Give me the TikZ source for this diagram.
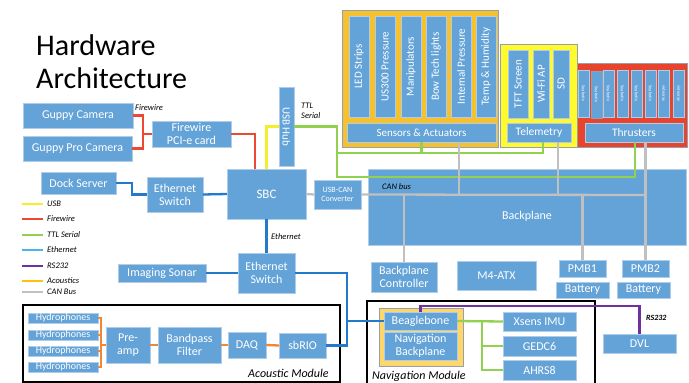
\documentclass[tikz,border=0pt]{standalone}
\usepackage{fontspec}
\setmainfont{Carlito}
\usetikzlibrary{calc}

\definecolor{boxblue}{RGB}{100,163,216}
\definecolor{boxedge}{RGB}{175,205,232}
\definecolor{sensgold}{RGB}{247,192,45}
\definecolor{telyellow}{RGB}{255,250,45}
\definecolor{thrred}{RGB}{232,67,45}
\definecolor{navgold}{RGB}{255,215,105}
\definecolor{framegray}{RGB}{150,160,172}
\definecolor{cUSB}{RGB}{245,238,45}
\definecolor{cFW}{RGB}{236,72,50}
\definecolor{cTTL}{RGB}{146,208,80}
\definecolor{cETH}{RGB}{35,122,205}
\definecolor{cETHkey}{RGB}{75,180,232}
\definecolor{cRS}{RGB}{112,48,160}
\definecolor{cAC}{RGB}{240,135,50}
\definecolor{cACkey}{RGB}{255,192,20}
\definecolor{cCAN}{RGB}{192,192,192}

% box given by its corners (x1,y1) (x2,y2) in picture units
\newcommand\mkbox[7][]{%
  \pgfmathsetmacro\mkw{#5-#3}%
  \pgfmathsetmacro\mkh{#6-#4}%
  \node[bx,minimum width=\mkw pt,minimum height=\mkh pt,#1] (#2)
    at ({(#3+#5)/2},{(#4+#6)/2}) {#7};}
% same, with the text turned to run vertically (bottom to top by default)
\newcommand\mkvbox[7][]{%
  \pgfmathsetmacro\mkw{#5-#3}%
  \pgfmathsetmacro\mkh{#6-#4}%
  \node[bx,minimum width=\mkh pt,minimum height=\mkw pt,rotate=90,#1] (#2)
    at ({(#3+#5)/2},{(#4+#6)/2}) {#7};}

\tikzset{
  bx/.style={draw=boxedge, line width=0.7pt, fill=boxblue, text=white,
    inner sep=0pt, outer sep=0pt, align=center,
    font=\fontsize{12}{13}\selectfont},
  downward/.style={rotate=180},
  f11/.style={font=\fontsize{11}{12}\selectfont},
  f8/.style={font=\fontsize{8}{9}\selectfont},
  wire/.style={line width=2.3pt},
  wusb/.style={wire, draw=cUSB},
  wfw/.style={wire, draw=cFW},
  wttl/.style={wire, draw=cTTL},
  weth/.style={wire, draw=cETH},
  wrs/.style={wire, draw=cRS},
  wac/.style={wire, draw=cAC},
  wcan/.style={wire, draw=cCAN},
  tag/.style={font=\fontsize{8.5}{10}\selectfont\itshape, inner sep=0pt},
  modframe/.style={draw=black, line width=2.2pt},
  tiny/.style={downward, font=\fontsize{4.5}{5}\selectfont},
}

\begin{document}
\begin{tikzpicture}[x=1pt,y=-1pt]
\fill[white] (0,0) rectangle (689,383);
\useasboundingbox (0,0) rectangle (689,383);

% title
\node[anchor=base west, inner sep=0pt, font=\fontsize{30}{32}\selectfont] (title1) at (36,55) {Hardware};
\node[anchor=base west, inner sep=0pt, font=\fontsize{30}{32}\selectfont] (title2) at (36,88) {Architecture};

% cameras and firewire card
\mkbox{guppy}{23}{103}{133}{128}{Guppy Camera}
\mkbox{guppypro}{23}{136}{132}{161}{Guppy Pro Camera}
\mkbox{fwcard}{152}{121}{231}{147}{Firewire\\PCI-e card}

% computer and its neighbours
\mkbox{dock}{41}{172}{116}{194}{Dock Server}
\mkbox{esw1}{147}{177}{203}{212}{Ethernet\\Switch}
\mkbox[font=\fontsize{13}{14}\selectfont]{sbc}{227}{169}{306}{219}{SBC}
\mkvbox[downward,f11]{usbhub}{279}{87}{294}{166}{USB Hub}
\mkbox[f8]{usbcan}{314}{180}{361}{209}{USB-CAN\\Converter}
\mkbox{esw2}{238}{253}{295}{293}{Ethernet\\Switch}
\mkbox{sonar}{118}{264}{206}{282}{Imaging Sonar}

% sensors & actuators group
\draw[fill=sensgold, draw=framegray, line width=0.6pt] (342,10) rectangle (498,147);
\mkvbox[f11]{led}{349}{16}{369}{117}{LED Strips}
\mkvbox[f11]{us300}{375}{16}{395}{117}{US300 Pressure}
\mkvbox[f11]{manip}{401}{16}{421}{117}{Manipulators}
\mkvbox[f11]{bowtech}{426}{16}{446}{117}{Bow Tech lights}
\mkvbox[f11]{intpress}{451}{16}{471}{117}{Internal Pressure}
\mkvbox[f11]{temphum}{476}{16}{496}{117}{Temp \& Humidity}
\mkbox[f11]{sensors}{347}{123}{496}{142}{Sensors \& Actuators}

% telemetry group
\draw[fill=telyellow, draw=framegray, line width=0.6pt] (500,44) rectangle (577,147);
\mkvbox[f11]{tft}{508}{50}{528}{118}{TFT Screen}
\mkvbox[f11]{wifi}{533}{50}{549}{118}{Wi-Fi AP}
\mkvbox[f11]{sd}{553}{50}{569}{118}{SD}
\mkbox[font=\fontsize{11.5}{12}\selectfont]{telemetry}{507}{123}{571}{142}{Telemetry}

% thrusters group
\draw[fill=thrred, draw=framegray, line width=0.6pt] (577,63) rectangle (687,147);
\mkvbox[tiny]{thr1}{578}{70}{589}{117}{Seabotix}
\mkvbox[tiny, draw=framegray]{thr2}{591}{71}{602}{118}{Seabotix}
\mkvbox[tiny]{thr3}{603}{70}{614}{117}{Seabotix}
\mkvbox[tiny]{thr4}{617}{70}{628}{117}{Seabotix}
\mkvbox[tiny]{thr5}{631}{70}{642}{117}{Seabotix}
\mkvbox[tiny]{thr6}{645}{70}{656}{117}{Seabotix}
\mkvbox[tiny]{thr7}{658}{70}{669}{117}{videoray}
\mkvbox[tiny]{thr8}{673}{70}{684}{117}{videoray}
\mkbox[font=\fontsize{11.5}{12}\selectfont]{thrusters}{585}{123}{683}{142}{Thrusters}

% backplane and power
\mkbox{backplane}{368}{169}{686}{245}{}
\node[text=white, font=\fontsize{12}{13}\selectfont, inner sep=0pt] (bplabel) at (527,216) {Backplane};
\mkbox{bpc}{371}{262}{437}{292}{Backplane\\Controller}
\mkbox{m4atx}{457}{261}{536}{290}{M4-ATX}
\mkbox{pmb1}{559}{260}{606}{277}{PMB1}
\mkbox{bat1}{556}{282}{609}{298}{Battery}
\mkbox{pmb2}{622}{260}{669}{277}{PMB2}
\mkbox{bat2}{617}{282}{670}{298}{Battery}

% acoustic module
\draw[modframe] (23,305) rectangle (340,382);
\mkbox[font=\fontsize{10}{10}\selectfont]{hyd1}{28}{313}{98}{323}{Hydrophones}
\mkbox[font=\fontsize{10}{10}\selectfont]{hyd2}{28}{330}{98}{340}{Hydrophones}
\mkbox[font=\fontsize{10}{10}\selectfont]{hyd3}{28}{346}{98}{356}{Hydrophones}
\mkbox[font=\fontsize{10}{10}\selectfont]{hyd4}{28}{362}{98}{372}{Hydrophones}
\mkbox{preamp}{106}{327}{150}{363}{Pre-\\amp}
\mkbox{bandpass}{158}{327}{221}{363}{Bandpass\\Filter}
\mkbox{daq}{228}{332}{266}{358}{DAQ}
\mkbox{sbrio}{279}{333}{326}{358}{sbRIO}
\node[anchor=base west, inner sep=0pt, font=\fontsize{12}{13}\selectfont\itshape] (acmod) at (248,377) {Acoustic Module};

% navigation module
\draw[modframe] (367,301) rectangle (595,400);
\draw[fill=navgold, draw=framegray, line width=0.6pt] (379,308) rectangle (463,366);
\mkbox{beagle}{384}{312}{457}{330}{Beaglebone}
\mkbox{navbp}{384}{332}{457}{360}{Navigation\\Backplane}
\mkbox{xsens}{503}{312}{576}{331}{Xsens IMU}
\mkbox{gedc}{503}{336}{576}{356}{GEDC6}
\mkbox{ahrs}{503}{360}{576}{380}{AHRS8}
\mkbox{dvl}{603}{334}{676}{353}{DVL}
\node[anchor=base west, inner sep=0pt, font=\fontsize{12}{13}\selectfont\itshape] (navmod) at (372,379.5) {Navigation Module};

% junction points
\coordinate (fwj) at (143,134);
\coordinate (ttlj) at (337,177);
\coordinate (ttlb) at (337,153);
\coordinate (canA) at (459,195);
\coordinate (canB) at (558,195);
\coordinate (canC) at (646,195);
\coordinate (ethj) at (347,321);
\coordinate (hydj) at (101,345);
\coordinate (navj) at (482,321);

% firewire
\draw[wfw] (guppy.east) -| (fwj) |- (guppypro.east);
\draw[wfw] (fwj) -- (fwcard.west);
\draw[wfw] (fwcard.east) -| ([xshift=-11.5pt]sbc.north);
\node[tag, anchor=west] (fwtag) at (135,108) {Firewire};

% usb (the hub is turned, so its south side faces left)
\draw[wusb] (sbc.north) |- (usbhub.south);

% ttl serial
\draw[wttl] (usbhub.north) -| (ttlj) -| ([xshift=1pt]thrusters.south);
\draw[wttl] (ttlb) -| ([xshift=4pt]telemetry.south);
\draw[wttl] (sensors.south) -- (sensors.south |- ttlb);
\node[tag, anchor=north west, align=left] (ttltag) at (301,103) {TTL\\Serial};

% ethernet
\draw[weth] (dock.east) -| ([xshift=16pt]dock.east |- esw1.west) -- (esw1.west);
\draw[weth] (esw1.east) -- (sbc.west);
\draw[weth] (sbc.south) -- (esw2.north);
\node[tag, anchor=west] (ethtag) at (271,237) {Ethernet};
\draw[weth] (sonar.east) -- (esw2.west);
\draw[weth] (esw2.east) -| (ethj) |- (sbrio.east);
\draw[weth] (ethj) -- (beagle.west);

% can bus
\draw[wcan] (sbc.east) -- (usbcan.west);
\draw[wcan] (usbcan.east) -- (canC);
\draw[wcan] (sensors.south -| canA) -- (canA);
\draw[wcan] (telemetry.south -| canB) -- (canB);
\draw[wcan] (thrusters.south -| pmb2.north) -- (pmb2.north);
\draw[wcan] (bpc.north) -- (bpc.north |- canA);
\draw[wcan] (pmb1.north) -- (pmb1.north |- canA);
\node[tag, anchor=west] (cantag) at (382,187) {CAN bus};

% acoustics
\draw[wac] (hyd1.east) -| (hydj) |- (hyd4.east);
\draw[wac] (hyd2.east) -- (hyd2.east -| hydj);
\draw[wac] (hyd3.east) -- (hyd3.east -| hydj);
\draw[wac] (hydj) -- (preamp.west);
\draw[wac] (preamp.east) -- (bandpass.west);
\draw[wac] (bandpass.east) -- (daq.west);
\draw[wac] (daq.east) -- (sbrio.west);

% navigation sensors
\draw[wttl] (beagle.east) -- (xsens.west);
\draw[wttl] (navj) |- (gedc.west);
\draw[wttl] (navj) |- (ahrs.west);

% rs232
\draw[wrs] (beagle.north) -- ++(0,-6) -| (dvl.north);
\node[tag, anchor=west, font=\fontsize{8}{9}\selectfont\itshape\bfseries] (rstag) at (646,318) {RS232};

% key
\foreach \yy/\cc/\tt/\nm in {204/cUSB/USB/kusb, 219/cFW/Firewire/kfw, 235/cTTL/TTL Serial/kttl,
    250/cETHkey/Ethernet/keth, 266/cRS/RS232/krs, 281/cACkey/Acoustics/kac, 292/cCAN/CAN Bus/kcan}{
  \draw[wire, draw=\cc] (22,\yy) -- (43,\yy);
  \node[tag, anchor=west] (\nm) at (47,\yy) {\tt};
}
\end{tikzpicture}
\end{document}
